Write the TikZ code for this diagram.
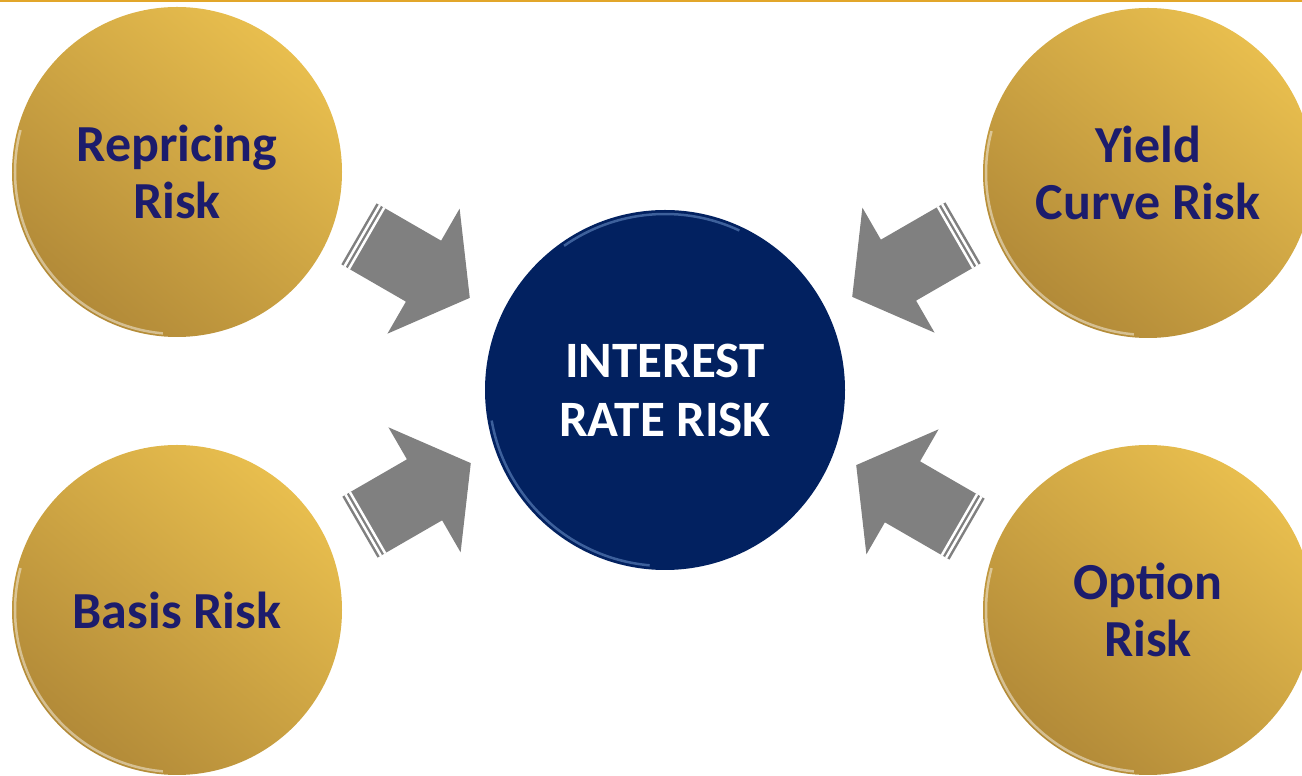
\documentclass[tikz,border=0pt]{standalone}
\usepackage{fontspec}
\setmainfont{Carlito}
\usepackage{tikz}
\usetikzlibrary{shapes.arrows,calc}

\definecolor{goldlight}{RGB}{232,190,78}
\definecolor{golddark}{RGB}{178,138,56}
\definecolor{ratenavy}{RGB}{2,33,96}
\definecolor{rimblue}{RGB}{120,160,215}
\definecolor{labelnavy}{RGB}{28,28,108}
\definecolor{arrowgray}{RGB}{128,128,128}
\definecolor{rulegold}{RGB}{226,166,42}

\tikzset{
  goldball/.style={circle, minimum size=330, inner sep=0, top color=goldlight,
    bottom color=golddark, shading angle=-40, text=labelnavy, align=center,
    font=\fontsize{52}{57}\selectfont\bfseries},
  rateball/.style={circle, minimum size=360, inner sep=0, fill=ratenavy,
    text=white, align=center, font=\fontsize{51}{59}\selectfont\bfseries},
  riskarrow/.style={single arrow, fill=arrowgray, minimum height=128,
    inner xsep=0, inner ysep=35, single arrow head extend=37,
    single arrow tip angle=107, anchor=tip},
  stripe/.style={white, line width=2.5},
  glint/.style={white, opacity=.45, line width=2.5},
}

\begin{document}
\begin{tikzpicture}[x=1pt, y=1pt]
  \useasboundingbox (0,0) rectangle (1302,776);
  \clip (0,0) rectangle (1302,776);

  % thin rule along the top edge
  \draw[rulegold, line width=2] (0,775) -- (1302,775);

  % the four kinds of risk
  \node[goldball] (rep) at (177,604) {Repricing\\Risk};
  \node[goldball] (yld) at (1148,603) {Yield\\Curve Risk};
  \node[goldball] (bas) at (177,166) {Basis Risk};
  \node[goldball] (opt) at (1148,166) {Option\\Risk};
  \foreach \n in {rep,yld,bas,opt}
    \draw[glint] ($(\n)+(165:162)$) arc[start angle=165, end angle=265, radius=162];

  % centre ball
  \node[rateball] (irr) at (665,386) {INTEREST\\RATE RISK};
  \draw[rimblue, opacity=.5, line width=2.5]
    ($(irr)+(65:176)$) arc[start angle=65, end angle=125, radius=176];
  \draw[rimblue, opacity=.5, line width=2.5]
    ($(irr)+(190:176)$) arc[start angle=190, end angle=265, radius=176];

  % block arrows pointing inwards (placed by their tips)
  \node[riskarrow, rotate=-30] (a1) at (470,478) {};
  \node[riskarrow, rotate=30]  (a2) at (471,313) {};
  \node[riskarrow, rotate=210] (a3) at (852,479) {};
  \node[riskarrow, rotate=150] (a4) at (856,311) {};
  \foreach \a in {a1,a2,a3,a4}{
    \draw[stripe] ($(\a.before tail)!4pt!-90:(\a.after tail)$)
      -- ($(\a.after tail)!4pt!90:(\a.before tail)$);
    \draw[stripe] ($(\a.before tail)!9pt!-90:(\a.after tail)$)
      -- ($(\a.after tail)!9pt!90:(\a.before tail)$);
  }
\end{tikzpicture}
\end{document}
